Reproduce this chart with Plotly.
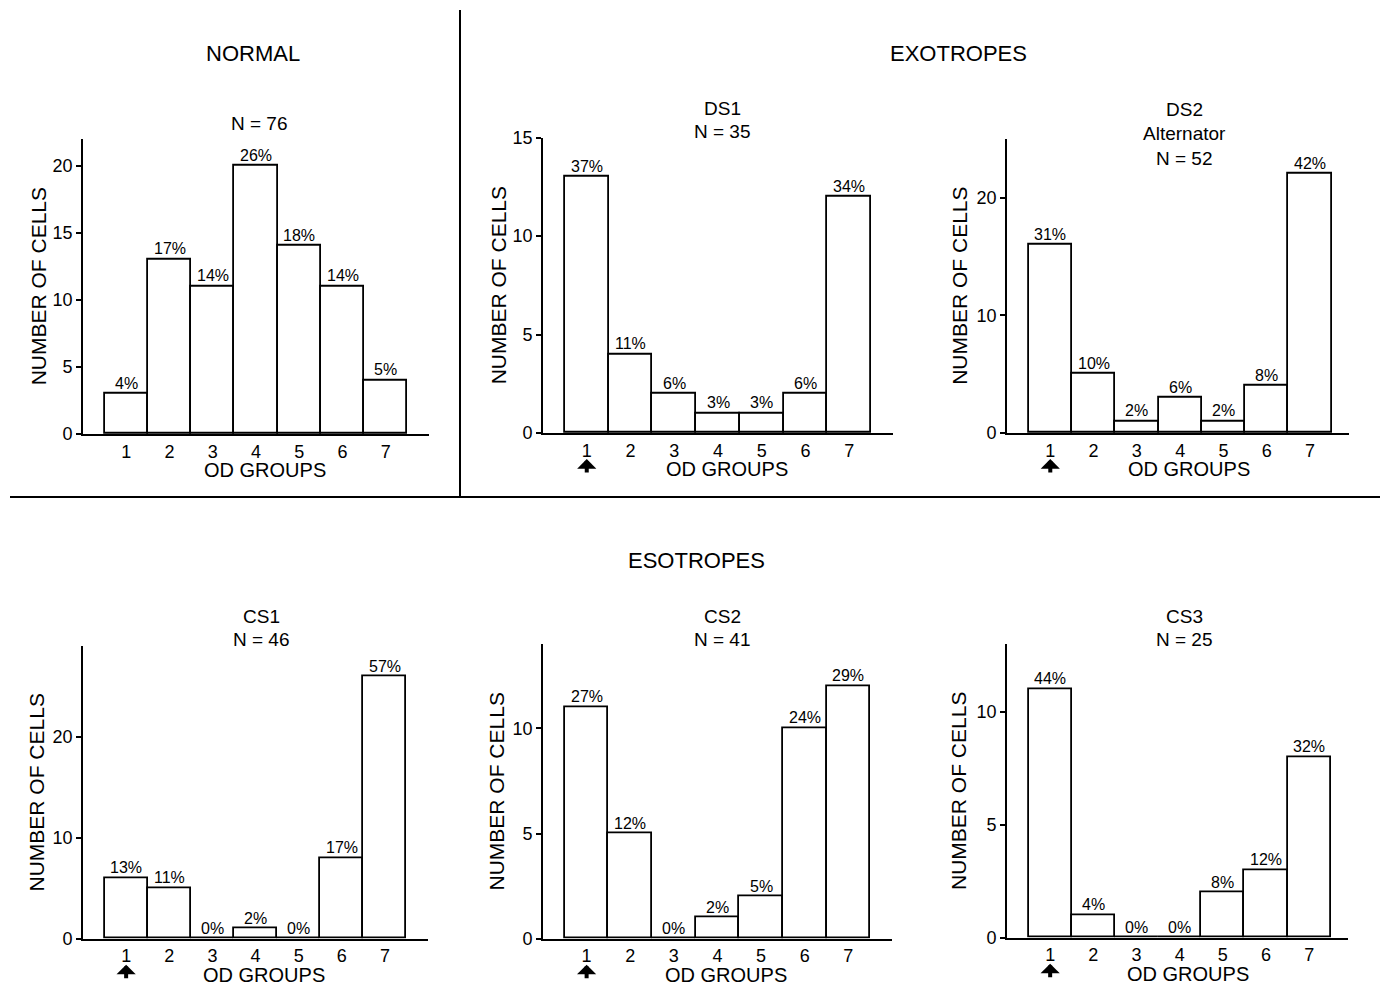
import plotly.graph_objects as go

W, H = 1388, 996
FONT = "Liberation Sans, Arial, Helvetica, sans-serif"

groups = [1, 2, 3, 4, 5, 6, 7]
group_labels = ["1", "2", "3", "4", "5", "6", "7"]

normal_counts = [3, 13, 11, 20, 14, 11, 4]
normal_pcts = ["4%", "17%", "14%", "26%", "18%", "14%", "5%"]
ds1_counts = [13, 4, 2, 1, 1, 2, 12]
ds1_pcts = ["37%", "11%", "6%", "3%", "3%", "6%", "34%"]
ds2_counts = [16, 5, 1, 3, 1, 4, 22]
ds2_pcts = ["31%", "10%", "2%", "6%", "2%", "8%", "42%"]
cs1_counts = [6, 5, 0, 1, 0, 8, 26]
cs1_pcts = ["13%", "11%", "0%", "2%", "0%", "17%", "57%"]
cs2_counts = [11, 5, 0, 1, 2, 10, 12]
cs2_pcts = ["27%", "12%", "0%", "2%", "5%", "24%", "29%"]
cs3_counts = [11, 1, 0, 0, 2, 3, 8]
cs3_pcts = ["44%", "4%", "0%", "0%", "8%", "12%", "32%"]

panel_subtitles = [
    ["N = 76"],
    ["DS1", "N = 35"],
    ["DS2", "Alternator", "N = 52"],
    ["CS1", "N = 46"],
    ["CS2", "N = 41"],
    ["CS3", "N = 25"],
]
section_titles = ["NORMAL", "EXOTROPES", "ESOTROPES"]
has_arrow = [False, True, True, True, True, True]

# layout (target picture pixels)
panels = [
    dict(px=(83, 429, 138, 433), ymax=22, dtick=5, xmax=8, counts=normal_counts, pcts=normal_pcts),
    dict(px=(543, 893, 137, 432), ymax=15, dtick=5, xmax=8, counts=ds1_counts, pcts=ds1_pcts),
    dict(px=(1007, 1349, 138, 432), ymax=25, dtick=10, xmax=7.9, counts=ds2_counts, pcts=ds2_pcts),
    dict(px=(83, 428, 645, 937), ymax=29, dtick=10, xmax=8, counts=cs1_counts, pcts=cs1_pcts),
    dict(px=(543, 892, 643, 937), ymax=14, dtick=5, xmax=8, counts=cs2_counts, pcts=cs2_pcts),
    dict(px=(1007, 1348, 643, 936), ymax=13, dtick=5, xmax=7.9, counts=cs3_counts, pcts=cs3_pcts),
]
subtitle_pos = [
    [(259, 123)],
    [(722, 108), (722, 131)],
    [(1184, 109), (1184, 133), (1184, 158)],
    [(261, 615), (261, 638)],
    [(722, 615), (722, 638)],
    [(1184, 615), (1184, 638)],
]
section_pos = [(253, 53), (958, 53), (696, 559)]
ytitle_x = [38, 498, 960, 36, 496, 959]

# the photographed page shows the paper slightly compressed vertically;
# map target picture y-pixels to page pixels
def ry(v):
    return (v - 9.5) / 0.9787

def px_x(v):
    return v / W

def px_y(v):
    return 1 - min(max(ry(v), 0), H) / H

fig = go.Figure()
annotations = []
layout_axes = {}

for i, p in enumerate(panels):
    n = i + 1
    xa = "x" if n == 1 else f"x{n}"
    ya = "y" if n == 1 else f"y{n}"
    x0, x1, y0, y1 = p["px"]
    fig.add_trace(go.Bar(
        x=groups, y=p["counts"], xaxis=xa, yaxis=ya, width=1,
        marker=dict(color="white", line=dict(color="black", width=1.8)),
        cliponaxis=False, showlegend=False, hoverinfo="skip",
    ))
    # percentage labels sitting on top of each bar
    for g, c, t in zip(groups, p["counts"], p["pcts"]):
        annotations.append(dict(
            text=t, xref=xa, yref=ya, x=g, y=c, xanchor="center", yanchor="bottom",
            showarrow=False, font=dict(family=FONT, size=16, color="black"),
        ))
    xkey = "xaxis" if n == 1 else f"xaxis{n}"
    ykey = "yaxis" if n == 1 else f"yaxis{n}"
    layout_axes[xkey] = dict(
        domain=[px_x(x0), px_x(x1)], range=[0, p["xmax"]], anchor=ya,
        showline=True, linecolor="black", linewidth=1.8, showgrid=False, zeroline=False,
        tickvals=groups, ticktext=group_labels, ticks="",
        tickfont=dict(family=FONT, size=18, color="black"), fixedrange=True,
    )
    layout_axes[ykey] = dict(
        domain=[px_y(y1), px_y(y0)], range=[0, p["ymax"]], anchor=xa,
        showline=True, linecolor="black", linewidth=1.8, showgrid=False, zeroline=False,
        tick0=0, dtick=p["dtick"], ticks="outside", ticklen=5, tickwidth=1.5, tickcolor="black",
        tickfont=dict(family=FONT, size=18, color="black"), fixedrange=True,
    )
    annotations.append(dict(
        text="NUMBER OF CELLS", textangle=-90, xref="paper", yref="paper",
        x=px_x(ytitle_x[i]), y=px_y((y0 + y1) / 2), xanchor="center", yanchor="middle",
        showarrow=False, font=dict(family=FONT, size=21, color="black"),
    ))
    annotations.append(dict(
        text="OD GROUPS", xref=xa, yref="paper", x=4.2, y=px_y(y1 + 36),
        xanchor="center", yanchor="middle", showarrow=False,
        font=dict(family=FONT, size=20, color="black"),
    ))
    for line, (sx, sy) in zip(panel_subtitles[i], subtitle_pos[i]):
        annotations.append(dict(
            text=line, xref="paper", yref="paper", x=px_x(sx), y=px_y(sy),
            xanchor="center", yanchor="middle", showarrow=False,
            font=dict(family=FONT, size=19, color="black"),
        ))
    if has_arrow[i]:
        annotations.append(dict(
            text="", xref=xa, yref="paper", x=1, y=px_y(y1 + 26),
            ax=0, ay=15, axref="pixel", ayref="pixel", showarrow=True,
            arrowhead=1, arrowsize=0.8, arrowwidth=4, arrowcolor="black",
        ))

for txt, (cx, cy) in zip(section_titles, section_pos):
    annotations.append(dict(
        text=txt, xref="paper", yref="paper", x=px_x(cx), y=px_y(cy),
        xanchor="center", yanchor="middle", showarrow=False,
        font=dict(family=FONT, size=22, color="black"),
    ))

shapes = [
    dict(type="line", xref="paper", yref="paper", x0=px_x(460), x1=px_x(460), y0=px_y(9), y1=px_y(496),
         line=dict(color="black", width=2)),
    dict(type="line", xref="paper", yref="paper", x0=px_x(10), x1=px_x(1380), y0=px_y(496), y1=px_y(496),
         line=dict(color="black", width=2)),
]

fig.update_layout(
    width=W, height=H, margin=dict(l=0, r=0, t=0, b=0),
    paper_bgcolor="white", plot_bgcolor="white", bargap=0,
    annotations=annotations, shapes=shapes,
    font=dict(family=FONT, color="black"),
    **layout_axes,
)

fig.write_html(
    "out.html",
    config={"displayModeBar": False},
    post_script="document.body.style.margin='0';document.body.style.padding='0';"
                "document.body.style.overflow='hidden';",
)
